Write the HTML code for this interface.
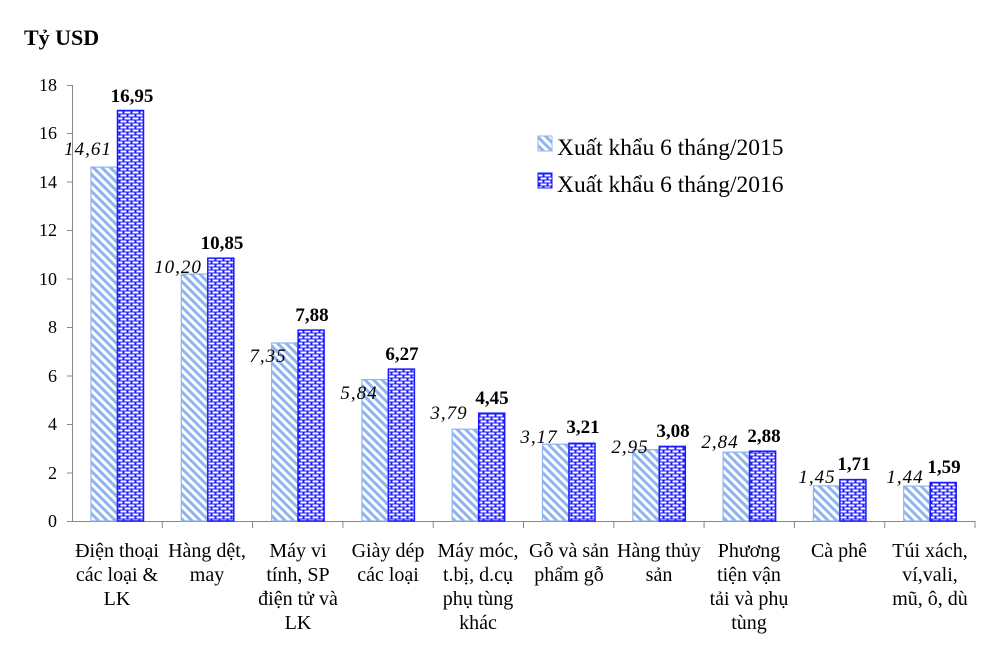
<!DOCTYPE html><html><head><meta charset="utf-8"><style>body{margin:0;background:#fff}svg{display:block;font-family:"Liberation Serif",serif}</style></head><body>
<svg width="1008" height="645" viewBox="0 0 1008 645">
<defs>
<pattern id="d" width="6" height="6" patternUnits="userSpaceOnUse" patternTransform="rotate(-45)"><rect width="6" height="6" fill="#fff"/><rect width="3" height="6" fill="#8fb4f0"/></pattern>
<pattern id="b" width="8" height="6" patternUnits="userSpaceOnUse"><rect width="8" height="6" fill="#1a1aff"/><rect x="0.5" y="0.5" width="6" height="2" fill="#fff"/><rect x="-3.5" y="3.5" width="6" height="2" fill="#fff"/><rect x="4.5" y="3.5" width="6" height="2" fill="#fff"/></pattern>
</defs>
<text x="24" y="45" font-size="22" font-weight="bold">Tỷ USD</text>
<g stroke="#888" stroke-width="1">
<line x1="72.5" y1="85" x2="72.5" y2="521"/>
<line x1="72" y1="521.5" x2="975" y2="521.5"/>
<line x1="67" x2="72" y1="521.5" y2="521.5"/><line x1="67" x2="72" y1="473" y2="473"/><line x1="67" x2="72" y1="424.5" y2="424.5"/><line x1="67" x2="72" y1="376" y2="376"/><line x1="67" x2="72" y1="327.5" y2="327.5"/><line x1="67" x2="72" y1="279" y2="279"/><line x1="67" x2="72" y1="230.5" y2="230.5"/><line x1="67" x2="72" y1="182" y2="182"/><line x1="67" x2="72" y1="133.5" y2="133.5"/><line x1="67" x2="72" y1="85.5" y2="85.5"/>
<line x1="162.3" x2="162.3" y1="521" y2="528"/><line x1="252.6" x2="252.6" y1="521" y2="528"/><line x1="342.9" x2="342.9" y1="521" y2="528"/><line x1="433.2" x2="433.2" y1="521" y2="528"/><line x1="523.5" x2="523.5" y1="521" y2="528"/><line x1="613.8" x2="613.8" y1="521" y2="528"/><line x1="704.1" x2="704.1" y1="521" y2="528"/><line x1="794.4" x2="794.4" y1="521" y2="528"/><line x1="884.7" x2="884.7" y1="521" y2="528"/><line x1="975" x2="975" y1="521" y2="528"/>
</g>
<g font-size="18" text-anchor="end">
<text x="57" y="527">0</text><text x="57" y="479">2</text><text x="57" y="430">4</text><text x="57" y="382">6</text><text x="57" y="333">8</text><text x="57" y="285">10</text><text x="57" y="236">12</text><text x="57" y="188">14</text><text x="57" y="139">16</text><text x="57" y="91">18</text>
</g>
<g stroke="#8fb4f0" stroke-width="1.2" fill="url(#d)">
<rect x="91" y="167.1" width="26" height="353.9"/>
<rect x="181.3" y="274" width="26" height="247"/>
<rect x="271.6" y="343" width="26" height="178"/>
<rect x="361.9" y="379.6" width="26" height="141.4"/>
<rect x="452.2" y="429.2" width="26" height="91.8"/>
<rect x="542.5" y="444.2" width="26" height="76.8"/>
<rect x="632.8" y="449.6" width="26" height="71.4"/>
<rect x="723.1" y="452.2" width="26" height="68.8"/>
<rect x="813.4" y="485.9" width="26" height="35.1"/>
<rect x="903.7" y="486.1" width="26" height="34.9"/>
</g>
<g stroke="#1a1aff" stroke-width="1.5" fill="url(#b)">
<rect x="117.5" y="110.5" width="26" height="410.5"/>
<rect x="207.8" y="258.2" width="26" height="262.8"/>
<rect x="298.1" y="330.1" width="26" height="190.9"/>
<rect x="388.4" y="369.1" width="26" height="151.9"/>
<rect x="478.7" y="413.2" width="26" height="107.8"/>
<rect x="569" y="443.3" width="26" height="77.7"/>
<rect x="659.3" y="446.4" width="26" height="74.6"/>
<rect x="749.6" y="451.2" width="26" height="69.8"/>
<rect x="839.9" y="479.6" width="26" height="41.4"/>
<rect x="930.2" y="482.5" width="26" height="38.5"/>
</g>
<g font-size="19" font-style="italic" text-anchor="middle" letter-spacing="1">
<text x="88" y="155">14,61</text><text x="178" y="273">10,20</text><text x="268" y="362">7,35</text><text x="359" y="399">5,84</text><text x="449" y="419">3,79</text><text x="539" y="443">3,17</text><text x="630" y="453">2,95</text><text x="720" y="448">2,84</text><text x="817" y="483">1,45</text><text x="905" y="483">1,44</text>
</g>
<g font-size="19" font-weight="bold" text-anchor="middle">
<text x="132" y="102">16,95</text><text x="222" y="249">10,85</text><text x="312" y="321">7,88</text><text x="402" y="360">6,27</text><text x="492" y="404">4,45</text><text x="583" y="433">3,21</text><text x="673" y="437">3,08</text><text x="764" y="442">2,88</text><text x="854" y="470">1,71</text><text x="944" y="473">1,59</text>
</g>
<g font-size="20" text-anchor="middle">
<text x="117" y="557">Điện thoại</text><text x="117" y="581">các loại &amp;</text><text x="117" y="605">LK</text>
<text x="207" y="557">Hàng dệt,</text><text x="207" y="581">may</text>
<text x="298" y="557">Máy vi</text><text x="298" y="581">tính, SP</text><text x="298" y="605">điện tử và</text><text x="298" y="629">LK</text>
<text x="388" y="557">Giày dép</text><text x="388" y="581">các loại</text>
<text x="478" y="557">Máy móc,</text><text x="478" y="581">t.bị, d.cụ</text><text x="478" y="605">phụ tùng</text><text x="478" y="629">khác</text>
<text x="569" y="557">Gỗ và sản</text><text x="569" y="581">phẩm gỗ</text>
<text x="659" y="557">Hàng thủy</text><text x="659" y="581">sản</text>
<text x="749" y="557">Phương</text><text x="749" y="581">tiện vận</text><text x="749" y="605">tải và phụ</text><text x="749" y="629">tùng</text>
<text x="839" y="557">Cà phê</text>
<text x="930" y="557">Túi xách,</text><text x="930" y="581">ví,vali,</text><text x="930" y="605">mũ, ô, dù</text>
</g>
<g font-size="23.5">
<rect x="538" y="136" width="14" height="15" fill="url(#d)" stroke="#8fb4f0"/>
<text x="557" y="155">Xuất khẩu 6 tháng/2015</text>
<rect x="538" y="173" width="14" height="15" fill="url(#b)" stroke="#1a1aff"/>
<text x="557" y="192">Xuất khẩu 6 tháng/2016</text>
</g>
</svg></body></html>
